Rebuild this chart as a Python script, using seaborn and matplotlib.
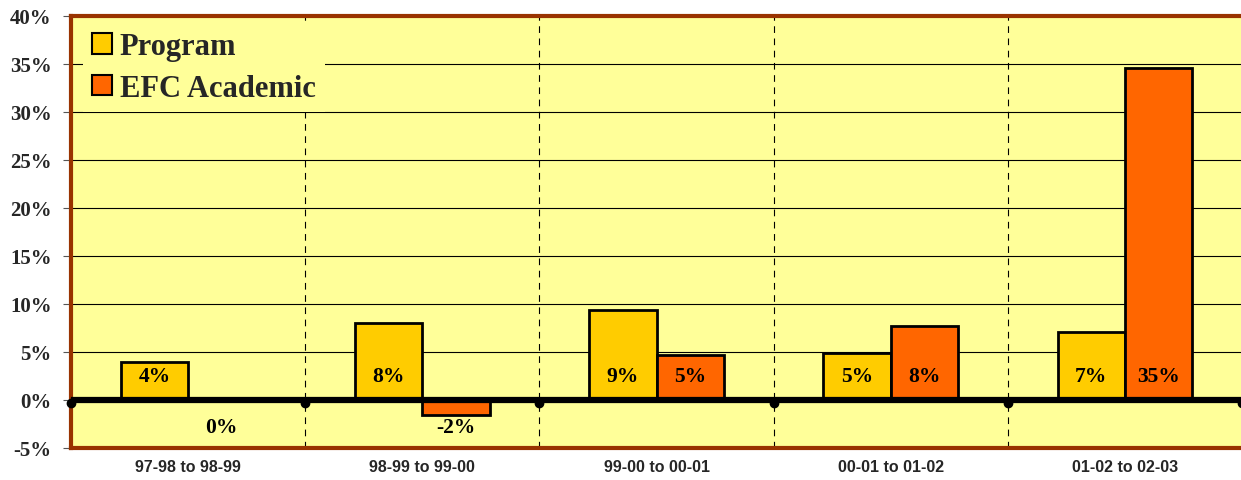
import pandas as pd
import matplotlib
matplotlib.use("Agg")
import matplotlib.pyplot as plt
import seaborn as sns
from matplotlib.patches import Patch

# data (percent change)
periods = ["97-98 to 98-99", "98-99 to 99-00", "99-00 to 00-01",
           "00-01 to 01-02", "01-02 to 02-03"]
program = [4.0, 8.0, 9.4, 4.9, 7.1]
efc_academic = [0.0, -1.6, 4.7, 7.7, 34.6]
series_names = ["Program", "EFC Academic"]
colors = ["#FFCC00", "#FF6600"]
y_ticks = [-5, 0, 5, 10, 15, 20, 25, 30, 35, 40]

df = pd.DataFrame({
    "period": periods * 2,
    "value": program + efc_academic,
    "series": [series_names[0]] * len(periods) + [series_names[1]] * len(periods),
})

sns.set_style("white")
serif = "Liberation Serif"
sans = "Liberation Sans"

fig = plt.figure(figsize=(12.41, 4.81), dpi=100)
ax = fig.add_axes([71 / 1241, 1 - 449 / 481, 1171 / 1241, 432 / 481])
ax.set_facecolor("#FFFF99")

sns.barplot(data=df, x="period", y="value", hue="series", palette=colors,
            width=0.574, edgecolor="black", linewidth=2, saturation=1,
            legend=False, ax=ax, zorder=2)

ax.set_xlim(-0.5, len(periods) - 0.5)
ax.set_ylim(-5, 40)

# gridlines
for t in y_ticks[2:-1]:
    ax.axhline(t, color="black", lw=0.8, zorder=0)
# dashed category separators
for b in range(1, len(periods)):
    ax.axvline(b - 0.5, color="black", lw=0.8, ls=(0, (6, 5)), zorder=0)
# zero line with dots
ax.axhline(0, color="black", lw=4.5, zorder=4)
ax.plot([b - 0.5 for b in range(len(periods) + 1)], [-0.35] * (len(periods) + 1),
        "o", color="black", ms=6, zorder=5, clip_on=False)

# value labels
for cont, vals in zip(ax.containers, [program, efc_academic]):
    for patch, v in zip(cont.patches, vals):
        x = patch.get_x() + patch.get_width() / 2
        y = 2.5 if v > 0 else -2.8
        ax.text(x, y, f"{v:.0f}%", ha="center", va="center", fontsize=15.5,
                fontweight="bold", family=serif, color="black", zorder=6)

ax.set_yticks(y_ticks)
ax.set_yticklabels([f"{t}%" for t in y_ticks], fontsize=15, fontweight="bold",
                   family=serif)
ax.set_xticks(range(len(periods)))
ax.set_xticklabels(periods, fontsize=11.5, fontweight="bold", family=sans)
ax.tick_params(axis="y", length=6, width=0.8, color="#555555", pad=8, left=True)
ax.tick_params(axis="x", length=0, pad=8)
ax.set_xlabel("")
ax.set_ylabel("")

for side in ["left", "top", "bottom"]:
    ax.spines[side].set_color("#993300")
    ax.spines[side].set_linewidth(3)
ax.spines["right"].set_visible(False)

handles = [Patch(facecolor=c, edgecolor="black", lw=1.5) for c in colors]
leg = ax.legend(handles, series_names, loc="upper left",
                bbox_to_anchor=(12 / 1171, 1 - 7 / 432), borderaxespad=0,
                prop={"family": serif, "weight": "bold", "size": 22},
                handlelength=0.65, handleheight=0.65, handletextpad=0.25,
                labelspacing=0.42, borderpad=0.3, frameon=True, fancybox=False)
leg.get_frame().set_facecolor("#FFFF99")
leg.get_frame().set_edgecolor("none")
leg.get_frame().set_alpha(1)
leg.set_zorder(7)

fig.savefig("out.png", dpi=100)
